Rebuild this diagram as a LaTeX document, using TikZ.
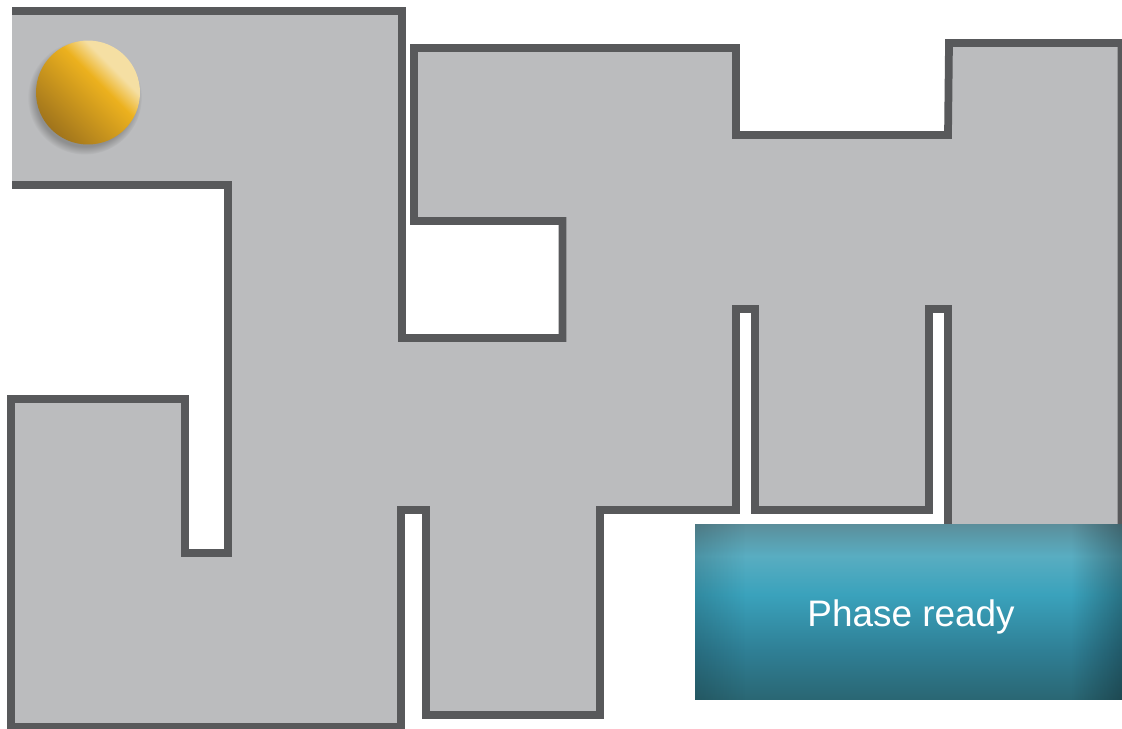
\documentclass[tikz,border=0pt]{standalone}
\usepackage{fontspec}
\setmainfont{Liberation Sans}
\usetikzlibrary{fadings, shadows}
\definecolor{mazefill}{HTML}{BBBCBE}
\definecolor{mazewall}{HTML}{58595B}
\definecolor{balldark}{HTML}{A0741C}
\definecolor{ballmid}{HTML}{ECB11E}
\definecolor{balllight}{HTML}{F5DFA3}
\definecolor{phasetop}{HTML}{5B8E9B}
\definecolor{phasehigh}{HTML}{59ADC1}
\definecolor{phasemid}{HTML}{3AA2BC}
\definecolor{phaselow}{HTML}{2F7F95}
\definecolor{phasebot}{HTML}{2A6673}
\pgfdeclareverticalshading{ballshade}{100bp}{color(0bp)=(balldark); color(25bp)=(balldark); color(57bp)=(ballmid); color(67bp)=(balllight); color(100bp)=(balllight)}
\pgfdeclareverticalshading{phaseshade}{100bp}{color(0bp)=(phasebot); color(25bp)=(phasebot); color(39bp)=(phaselow); color(55bp)=(phasemid); color(66bp)=(phasehigh); color(75bp)=(phasetop); color(100bp)=(phasetop)}
\pgfdeclarehorizontalshading{edgeshade}{100bp}{color(0bp)=(black!85); color(25bp)=(black!85); color(31bp)=(black); color(69bp)=(black); color(75bp)=(black!70); color(100bp)=(black!70)}
\pgfdeclarefading{edgefade}{\pgfuseshading{edgeshade}}

\begin{document}
\begin{tikzpicture}[
    x=0.02cm,
    y=-0.02cm,
    wall/.style={draw=mazewall, fill=mazefill, line width=0.155cm},
    ball/.style={circle, minimum size=2.08cm, inner sep=0pt, shading=ballshade, shading angle=-45, circular drop shadow={shadow xshift=-0.06cm, shadow yshift=-0.09cm, shadow scale=1.1, opacity=0.75}},
    phasebox/.style={minimum width=8.54cm, minimum height=3.52cm, inner sep=0pt, text height=1cm, text depth=0.44cm, shading=phaseshade, text=white, font=\fontsize{21}{25}\selectfont}
]
    \useasboundingbox (0,0) rectangle (1122,728);

    % Maze outline
    \draw[wall] (12,11) -- (402,11) -- (402,338) -- (562.5,338) -- (562.5,221) -- (414,221) -- (414,48) -- (736,48) -- (736,135) -- (948,135) -- (949,43) -- (1121.5,43) -- (1121.5,600) -- (948,600) -- (948,309) -- (929,309) -- (929,510) -- (755,510) -- (755,309) -- (736,309) -- (736,510) -- (600,510) -- (600,715) -- (426,715) -- (426,510) -- (401,510) -- (401,727) -- (11,727) -- (11,399) -- (185,399) -- (185,553) -- (228,553) -- (228,185) -- (12,185);

    % Ball
    \node[ball] (marble) at (88,92.5) {};

    % Label box
    \node[phasebox, path picture={
        \fill[black, path fading=edgefade] (path picture bounding box.south west) rectangle (path picture bounding box.north east);
    }] (phase) at (908.5,612) {\hspace*{0.1cm}Phase ready};

\end{tikzpicture}
\end{document}
